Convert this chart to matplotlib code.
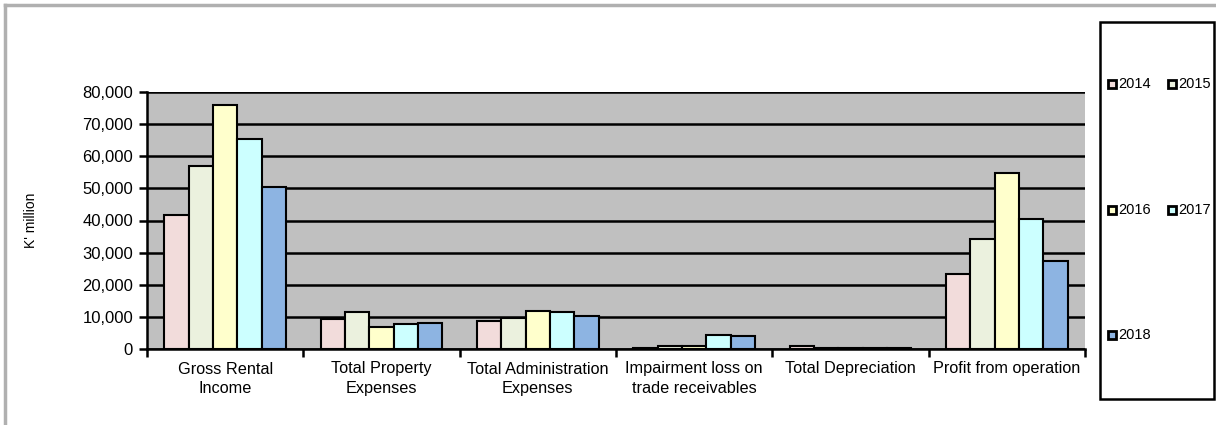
import numpy as np
import matplotlib

matplotlib.use("Agg")
import matplotlib.pyplot as plt
from matplotlib.patches import Rectangle
from matplotlib.lines import Line2D

categories = ["Gross Rental\nIncome", "Total Property\nExpenses",
              "Total Administration\nExpenses", "Impairment loss on\ntrade receivables",
              "Total Depreciation", "Profit from operation"]
years = ["2014", "2015", "2016", "2017", "2018"]

v2014 = [41700, 9250, 8700, 300, 900, 23300]
v2015 = [57100, 11600, 9550, 800, 400, 34200]
v2016 = [75900, 6950, 11900, 800, 300, 54700]
v2017 = [65300, 7700, 11400, 4350, 300, 40400]
v2018 = [50500, 8200, 10250, 4050, 300, 27500]

colors = ["#F2DCDB", "#EBF1DE", "#FFFFCC", "#CCFFFF", "#8DB4E2"]
yticks = np.arange(0, 80001, 10000)

W, H = 1216, 425
fig = plt.figure(figsize=(W / 100, H / 100), dpi=100)
plt.rcParams["font.family"] = ["Liberation Sans", "DejaVu Sans"]

ax = fig.add_axes([147 / W, 1 - 349 / H, (1085 - 147) / W, (349 - 92) / H])
ax.set_facecolor("#C0C0C0")

series = [v2014, v2015, v2016, v2017, v2018]
x = np.arange(len(categories))
bw = 0.156
for i, (vals, col, yr) in enumerate(zip(series, colors, years)):
    ax.bar(x + (i - 2) * bw, vals, width=bw, color=col, edgecolor="black",
           linewidth=1.5, label=yr, zorder=3)

ax.set_xlim(-0.5, len(categories) - 0.5)
ax.set_ylim(0, 80000)
ax.set_yticks(yticks)
ax.set_yticklabels([f"{v:,}" for v in yticks], fontsize=12)
ax.yaxis.grid(True, color="black", linewidth=1.8, zorder=1)
ax.set_axisbelow(True)

ax.set_xticks(x)
ax.set_xticklabels(categories, fontsize=11.7, linespacing=1.35)
ax.tick_params(axis="x", length=0, pad=9)
ax.set_xticks(np.arange(-0.5, len(categories)), minor=True)
ax.tick_params(axis="x", which="minor", length=6, width=1.8, direction="out")
ax.tick_params(axis="y", length=6, width=1.8, direction="out", pad=4)

for s in ["top", "right"]:
    ax.spines[s].set_visible(False)
for s in ["left", "bottom"]:
    ax.spines[s].set_linewidth(1.8)

ax.set_ylabel("K' million", fontsize=10)
ax.yaxis.set_label_coords((38 - 147) / (1085 - 147), 0.5)

# outer frame line (top and left edges)
fig.add_artist(Line2D([5 / W, 5 / W], [0, 1 - 5 / H], color="#B0B0B0", linewidth=2.5))
fig.add_artist(Line2D([5 / W, 1], [1 - 5 / H, 1 - 5 / H], color="#B0B0B0", linewidth=2.5))

# legend box with spaced entries
fig.add_artist(Rectangle((1100 / W, 1 - 399 / H), (1214 - 1100) / W, (399 - 22) / H,
                         transform=fig.transFigure, fill=False, edgecolor="black",
                         linewidth=1.8))
pos = [(1112, 84), (1172, 84), (1112, 210), (1172, 210), (1112, 335)]
for (px, py), col, yr in zip(pos, colors, years):
    fig.add_artist(Rectangle((px / W - 4 / W, 1 - (py + 4) / H), 8 / W, 8 / H,
                             transform=fig.transFigure, facecolor=col,
                             edgecolor="black", linewidth=2))
    fig.text((px + 6) / W, 1 - py / H, yr, fontsize=10.5, va="center", ha="left")

fig.savefig("out.png", dpi=100)
